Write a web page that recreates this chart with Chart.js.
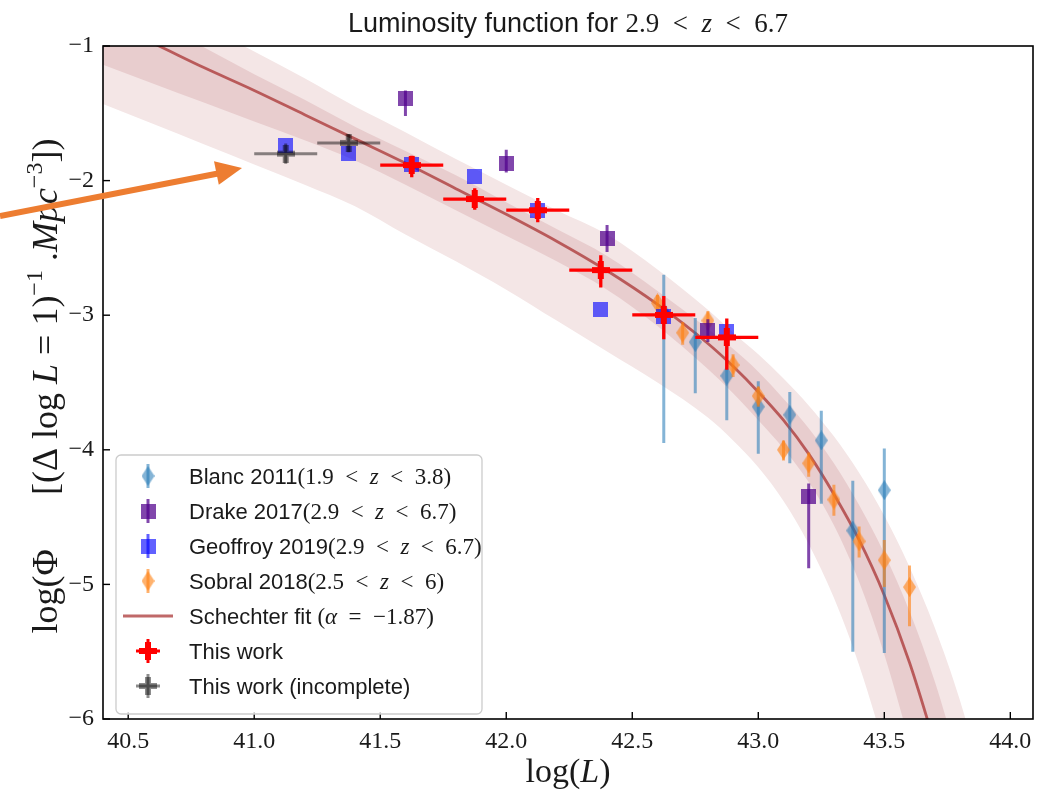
<!DOCTYPE html>
<html>
<head>
<meta charset="utf-8">
<title>Luminosity function</title>
<script src="https://cdn.jsdelivr.net/npm/chart.js@4.4.1/dist/chart.umd.min.js"></script>
<style>
    html, body { margin: 0; padding: 0; background: #ffffff; }
    canvas { display: block; }
</style>
</head>
<body>
<canvas id="lfChart" width="1048" height="797"></canvas>
<script>
// axis ticks
var xTicks = [40.5, 41.0, 41.5, 42.0, 42.5, 43.0, 43.5, 44.0];
var yTicks = [-1, -2, -3, -4, -5, -6];

// Blanc 2011 (1.9 < z < 3.8)
var blancX = [42.625, 42.75, 42.875, 43.0, 43.125, 43.25, 43.375, 43.5];
var blancY = [-2.98, -3.20, -3.45, -3.68, -3.74, -3.93, -4.60, -4.30];
var blancUp = [0.28, 0.18, 0.25, 0.19, 0.17, 0.22, 0.37, 0.31];
var blancLo = [0.97, 0.38, 0.33, 0.35, 0.36, 0.47, 0.90, 1.21];

// Drake 2017
var drakeX = [41.6, 42.0, 42.4, 42.8, 43.2];
var drakeY = [-1.39, -1.87, -2.43, -3.11, -4.35];
var drakeUp = [0.06, 0.10, 0.10, 0.08, 0.10];
var drakeLo = [0.13, 0.07, 0.10, 0.09, 0.53];

// Geoffroy 2019
var geoX = [41.125, 41.375, 41.625, 41.875, 42.125, 42.375, 42.625, 42.875];
var geoY = [-1.74, -1.80, -1.88, -1.97, -2.22, -2.96, -3.01, -3.12];

// Sobral 2018
var sobralX = [42.6, 42.7, 42.8, 42.9, 43.0, 43.1, 43.2, 43.3, 43.4, 43.5, 43.6];
var sobralY = [-2.91, -3.13, -3.04, -3.37, -3.60, -4.00, -4.10, -4.37, -4.68, -4.82, -5.02];
var sobralUp = [0.06, 0.08, 0.07, 0.08, 0.07, 0.07, 0.08, 0.11, 0.11, 0.15, 0.16];
var sobralLo = [0.06, 0.09, 0.07, 0.09, 0.08, 0.08, 0.10, 0.12, 0.12, 0.20, 0.29];

// This work
var workX = [41.625, 41.875, 42.125, 42.375, 42.625, 42.875];
var workY = [-1.885, -2.137, -2.22, -2.665, -2.998, -3.165];
var workUp = [0.07, 0.08, 0.09, 0.11, 0.14, 0.14];
var workLo = [0.09, 0.08, 0.09, 0.13, 0.18, 0.24];
var workXErr = [0.125, 0.125, 0.125, 0.125, 0.125, 0.125];

// This work (incomplete)
var incX = [41.125, 41.375];
var incY = [-1.80, -1.72];
var incUp = [0.075, 0.065];
var incLo = [0.075, 0.07];
var incXErr = [0.125, 0.125];

// Schechter fit
var fitX = [40.4, 40.6, 40.8, 41.0, 41.2, 41.4, 41.6, 41.8, 42.0, 42.2, 42.4, 42.6, 42.8, 42.9, 43.0, 43.1, 43.2, 43.3, 43.4, 43.5, 43.6, 43.7];
var fitY = [-0.81, -0.98, -1.16, -1.33, -1.51, -1.69, -1.87, -2.06, -2.25, -2.45, -2.67, -2.92, -3.21, -3.38, -3.57, -3.78, -4.03, -4.33, -4.67, -5.08, -5.58, -6.18];

var bandX = [40.4, 40.6, 40.8, 41.0, 41.2, 41.4, 41.6, 41.8, 42.0, 42.2, 42.4, 42.6, 42.8, 42.9, 43.0, 43.1, 43.2, 43.3, 43.4, 43.5, 43.6, 43.7, 43.8, 43.9];
var outerHigh = [-0.47, -0.66, -0.85, -1.04, -1.24, -1.45, -1.64, -1.84, -2.03, -2.22, -2.40, -2.66, -2.96, -3.13, -3.29, -3.47, -3.67, -3.90, -4.17, -4.49, -4.87, -5.32, -5.86, -6.53];
var innerHigh = [-0.62, -0.82, -1.01, -1.21, -1.40, -1.60, -1.78, -1.96, -2.16, -2.36, -2.56, -2.82, -3.10, -3.25, -3.42, -3.62, -3.84, -4.10, -4.41, -4.77, -5.20, -5.72, -6.35, -7.00];
var innerLow = [-1.14, -1.28, -1.42, -1.56, -1.70, -1.85, -2.03, -2.22, -2.41, -2.60, -2.81, -3.08, -3.40, -3.58, -3.78, -3.99, -4.24, -4.56, -4.98, -5.52, -6.18, -6.95, -7.80, -8.70];
var outerLow = [-1.43, -1.58, -1.73, -1.88, -2.03, -2.19, -2.40, -2.60, -2.81, -3.04, -3.27, -3.50, -3.76, -3.93, -4.13, -4.38, -4.70, -5.10, -5.60, -6.22, -6.98, -7.85, -8.80, -9.80];

var SANS = "'Liberation Sans', Arial, sans-serif";
var SERIF = "'Liberation Serif', 'Times New Roman', serif";

var blancColor = 'rgba(31, 119, 180, 0.55)';
var sobralColor = 'rgba(255, 127, 14, 0.6)';
var drakeColor = 'rgba(80, 0, 140, 0.72)';
var geoColor = 'rgba(0, 0, 255, 0.62)';
var workColor = '#ff0000';
var incColor = 'rgba(0, 0, 0, 0.45)';
var fitColor = 'rgba(165, 42, 42, 0.7)';

function markerCanvas(w, h, drawFn) {
    var c = document.createElement('canvas');
    c.width = w;
    c.height = h;
    drawFn(c.getContext('2d'), w, h);
    return c;
}

function diamondMarker(w, h, color) {
    return markerCanvas(w, h, function (g) {
        g.fillStyle = color;
        g.beginPath();
        g.moveTo(w / 2, 0);
        g.lineTo(w, h / 2);
        g.lineTo(w / 2, h);
        g.lineTo(0, h / 2);
        g.closePath();
        g.fill();
    });
}

function squareMarker(s, color) {
    return markerCanvas(s, s, function (g) {
        g.fillStyle = color;
        g.fillRect(0, 0, s, s);
    });
}

function plusMarker(s, color) {
    return markerCanvas(s, s, function (g) {
        var a = s / 3, b = 2 * s / 3;
        g.fillStyle = color;
        g.beginPath();
        g.moveTo(a, 0); g.lineTo(b, 0); g.lineTo(b, a); g.lineTo(s, a);
        g.lineTo(s, b); g.lineTo(b, b); g.lineTo(b, s); g.lineTo(a, s);
        g.lineTo(a, b); g.lineTo(0, b); g.lineTo(0, a); g.lineTo(a, a);
        g.closePath();
        g.fill();
    });
}

var blancMarker = diamondMarker(13, 20, blancColor);
var sobralMarker = diamondMarker(13, 20, sobralColor);
var drakeMarker = squareMarker(15, drakeColor);
var geoMarker = squareMarker(15, geoColor);
var workMarker = plusMarker(18, workColor);
var incMarker = plusMarker(18, incColor);

function toPoints(xs, ys) {
    var pts = [];
    for (var i = 0; i < xs.length; i++) {
        pts.push({ x: xs[i], y: ys[i] });
    }
    return pts;
}

// vertical error bars, separated by gaps
function vBars(xs, ys, up, lo) {
    var pts = [];
    for (var i = 0; i < xs.length; i++) {
        pts.push({ x: xs[i], y: ys[i] + up[i] });
        pts.push({ x: xs[i], y: ys[i] - lo[i] });
        pts.push({ x: xs[i], y: null });
    }
    return pts;
}

function hBars(xs, ys, err) {
    var pts = [];
    for (var i = 0; i < xs.length; i++) {
        pts.push({ x: xs[i] - err[i], y: ys[i] });
        pts.push({ x: xs[i] + err[i], y: ys[i] });
        pts.push({ x: xs[i], y: null });
    }
    return pts;
}

function markerSet(label, xs, ys, marker, order) {
    return {
        type: 'scatter',
        label: label,
        data: toPoints(xs, ys),
        pointStyle: marker,
        pointRadius: 6,
        showLine: false,
        order: order
    };
}

function barSet(pts, color, width, order) {
    return {
        type: 'line',
        data: pts,
        borderColor: color,
        borderWidth: width,
        borderCapStyle: 'butt',
        pointRadius: 0,
        showLine: true,
        spanGaps: false,
        fill: false,
        order: order
    };
}

function bandSet(xs, ys, color, fillTarget, order) {
    return {
        type: 'line',
        data: toPoints(xs, ys),
        borderWidth: 0,
        borderColor: 'rgba(0,0,0,0)',
        backgroundColor: color,
        pointRadius: 0,
        showLine: true,
        cubicInterpolationMode: 'monotone',
        fill: fillTarget,
        order: order
    };
}

function runsWidth(ctx, runs) {
    var w = 0;
    runs.forEach(function (r) {
        ctx.font = r[1];
        w += ctx.measureText(r[0]).width;
    });
    return w;
}

function drawRuns(ctx, runs, x, y) {
    runs.forEach(function (r) {
        ctx.font = r[1];
        ctx.fillText(r[0], x, y + (r[2] || 0));
        x += ctx.measureText(r[0]).width;
    });
    return x;
}

function serif(size, italic) {
    return (italic ? 'italic ' : '') + size + 'px ' + SERIF;
}

function sans(size) {
    return size + 'px ' + SANS;
}

var legendRows = [
    { kind: 'errbar', marker: blancMarker, color: blancColor, runs: [['Blanc 2011', sans(22)], ['(1.9\u2002<\u2002', serif(23)], ['z', serif(23, true)], ['\u2002<\u20023.8)', serif(23)]] },
    { kind: 'errbar', marker: drakeMarker, color: drakeColor, runs: [['Drake 2017', sans(22)], ['(2.9\u2002<\u2002', serif(23)], ['z', serif(23, true)], ['\u2002<\u20026.7)', serif(23)]] },
    { kind: 'errbar', marker: geoMarker, color: geoColor, runs: [['Geoffroy 2019', sans(22)], ['(2.9\u2002<\u2002', serif(23)], ['z', serif(23, true)], ['\u2002<\u20026.7)', serif(23)]] },
    { kind: 'errbar', marker: sobralMarker, color: sobralColor, runs: [['Sobral 2018', sans(22)], ['(2.5\u2002<\u2002', serif(23)], ['z', serif(23, true)], ['\u2002<\u20026)', serif(23)]] },
    { kind: 'line', color: fitColor, runs: [['Schechter fit ', sans(22)], ['(', serif(23)], ['\u03b1', serif(23, true)], ['\u2002=\u2002\u22121.87)', serif(23)]] },
    { kind: 'cross', marker: workMarker, color: workColor, runs: [['This work', sans(22)]] },
    { kind: 'cross', marker: incMarker, color: incColor, runs: [['This work (incomplete)', sans(22)]] }
];

var decorPlugin = {
    id: 'decor',
    afterDraw: function (chart) {
        var ctx = chart.ctx;
        var a = chart.chartArea;
        var xs = chart.scales.x;
        var ys = chart.scales.y;
        ctx.save();

        // frame and inward ticks
        ctx.strokeStyle = '#000000';
        ctx.lineWidth = 1.6;
        ctx.strokeRect(a.left, a.top, a.right - a.left, a.bottom - a.top);
        ctx.lineWidth = 1.4;
        xTicks.forEach(function (v) {
            var px = xs.getPixelForValue(v);
            ctx.beginPath();
            ctx.moveTo(px, a.bottom);
            ctx.lineTo(px, a.bottom - 7);
            ctx.stroke();
        });
        yTicks.forEach(function (v) {
            var py = ys.getPixelForValue(v);
            ctx.beginPath();
            ctx.moveTo(a.left, py);
            ctx.lineTo(a.left + 7, py);
            ctx.stroke();
        });

        ctx.fillStyle = '#1a1a1a';
        ctx.textBaseline = 'alphabetic';
        ctx.textAlign = 'left';

        // title
        var titleRuns = [['Luminosity function for ', sans(27)], ['2.9\u2002<\u2002', serif(27)], ['z', serif(27, true)], ['\u2002<\u20026.7', serif(27)]];
        var tw = runsWidth(ctx, titleRuns);
        drawRuns(ctx, titleRuns, (a.left + a.right) / 2 - tw / 2, 32);

        // x axis label
        var xRuns = [['log(', serif(34)], ['L', serif(34, true)], [')', serif(34)]];
        var xw = runsWidth(ctx, xRuns);
        drawRuns(ctx, xRuns, (a.left + a.right) / 2 - xw / 2, 782);

        // y axis label
        var yRuns = [
            ['log(\u03a6', serif(36)], ['\u2003\u2002', serif(36)], ['[(\u0394 log ', serif(36)],
            ['L', serif(36, true)], [' = 1)', serif(36)], ['\u22121', serif(24), -15],
            [' .', serif(36)], ['Mpc', serif(36, true)], ['\u22123', serif(24), -15], ['])', serif(36)]
        ];
        var yw = runsWidth(ctx, yRuns);
        ctx.save();
        ctx.translate(57, 386);
        ctx.rotate(-Math.PI / 2);
        drawRuns(ctx, yRuns, -yw / 2, 0);
        ctx.restore();

        // legend
        var bx = 116, by = 455, bw = 366, bh = 259;
        ctx.beginPath();
        ctx.roundRect(bx, by, bw, bh, 5);
        ctx.fillStyle = 'rgba(255,255,255,0.8)';
        ctx.fill();
        ctx.strokeStyle = '#cccccc';
        ctx.lineWidth = 1.3;
        ctx.stroke();
        legendRows.forEach(function (row, i) {
            var cy = 476 + i * 35;
            var mx = 148;
            if (row.kind === 'line') {
                ctx.strokeStyle = row.color;
                ctx.lineWidth = 2.8;
                ctx.beginPath();
                ctx.moveTo(123, cy);
                ctx.lineTo(173, cy);
                ctx.stroke();
            } else {
                ctx.strokeStyle = row.color;
                ctx.lineWidth = 3;
                ctx.beginPath();
                ctx.moveTo(mx, cy - 12);
                ctx.lineTo(mx, cy + 12);
                if (row.kind === 'cross') {
                    ctx.moveTo(mx - 12, cy);
                    ctx.lineTo(mx + 12, cy);
                }
                ctx.stroke();
                ctx.drawImage(row.marker, mx - row.marker.width / 2, cy - row.marker.height / 2);
            }
            ctx.fillStyle = '#1a1a1a';
            drawRuns(ctx, row.runs, 189, cy + 8);
        });

        // orange annotation arrow
        ctx.strokeStyle = '#ED7D31';
        ctx.fillStyle = '#ED7D31';
        ctx.lineWidth = 6;
        ctx.beginPath();
        ctx.moveTo(0, 216);
        ctx.lineTo(218, 173.5);
        ctx.stroke();
        ctx.beginPath();
        ctx.moveTo(242, 168);
        ctx.lineTo(214, 161.3);
        ctx.lineTo(218.8, 184.8);
        ctx.closePath();
        ctx.fill();

        ctx.restore();
    }
};

new Chart(document.getElementById('lfChart').getContext('2d'), {
    type: 'scatter',
    data: {
        datasets: [
            markerSet('This work (incomplete)', incX, incY, incMarker, 1),
            barSet(hBars(incX, incY, incXErr).concat(vBars(incX, incY, incUp, incLo)), incColor, 3, 2),
            markerSet('This work', workX, workY, workMarker, 3),
            barSet(hBars(workX, workY, workXErr).concat(vBars(workX, workY, workUp, workLo)), workColor, 3.3, 4),
            markerSet('Geoffroy 2019', geoX, geoY, geoMarker, 5),
            markerSet('Drake 2017', drakeX, drakeY, drakeMarker, 6),
            barSet(vBars(drakeX, drakeY, drakeUp, drakeLo), drakeColor, 3, 7),
            markerSet('Sobral 2018', sobralX, sobralY, sobralMarker, 8),
            barSet(vBars(sobralX, sobralY, sobralUp, sobralLo), sobralColor, 3, 9),
            markerSet('Blanc 2011', blancX, blancY, blancMarker, 10),
            barSet(vBars(blancX, blancY, blancUp, blancLo), blancColor, 3, 11),
            {
                type: 'line',
                label: 'Schechter fit',
                data: toPoints(fitX, fitY),
                borderColor: fitColor,
                borderWidth: 2.8,
                pointRadius: 0,
                showLine: true,
                cubicInterpolationMode: 'monotone',
                fill: false,
                order: 20
            },
            bandSet(bandX, innerHigh, '#e8cdce', '+1', 30),
            bandSet(bandX, innerLow, 'rgba(0,0,0,0)', false, 31),
            bandSet(bandX, outerHigh, '#f4e6e6', '+1', 40),
            bandSet(bandX, outerLow, 'rgba(0,0,0,0)', false, 41)
        ]
    },
    options: {
        responsive: false,
        animation: false,
        devicePixelRatio: 1,
        layout: { padding: { top: 46, right: 15, bottom: 0, left: 0 } },
        plugins: {
            legend: { display: false },
            tooltip: { enabled: false }
        },
        scales: {
            x: {
                type: 'linear',
                min: 40.4,
                max: 44.09,
                afterBuildTicks: function (scale) {
                    scale.ticks = xTicks.map(function (v) { return { value: v }; });
                },
                afterFit: function (scale) { scale.height = 78; },
                ticks: {
                    callback: function (v) { return v.toFixed(1); },
                    font: { family: SERIF, size: 24 },
                    color: '#1a1a1a',
                    padding: 8,
                    maxRotation: 0,
                    autoSkip: false
                },
                grid: { display: false, drawTicks: false },
                border: { display: false }
            },
            y: {
                type: 'linear',
                min: -6,
                max: -1,
                afterBuildTicks: function (scale) {
                    scale.ticks = yTicks.map(function (v) { return { value: v }; });
                },
                afterFit: function (scale) { scale.width = 103; },
                ticks: {
                    callback: function (v) { return '\u2212' + Math.abs(v); },
                    font: { family: SERIF, size: 24 },
                    color: '#1a1a1a',
                    padding: 9,
                    autoSkip: false
                },
                grid: { display: false, drawTicks: false },
                border: { display: false }
            }
        }
    },
    plugins: [decorPlugin]
});
</script>
</body>
</html>
